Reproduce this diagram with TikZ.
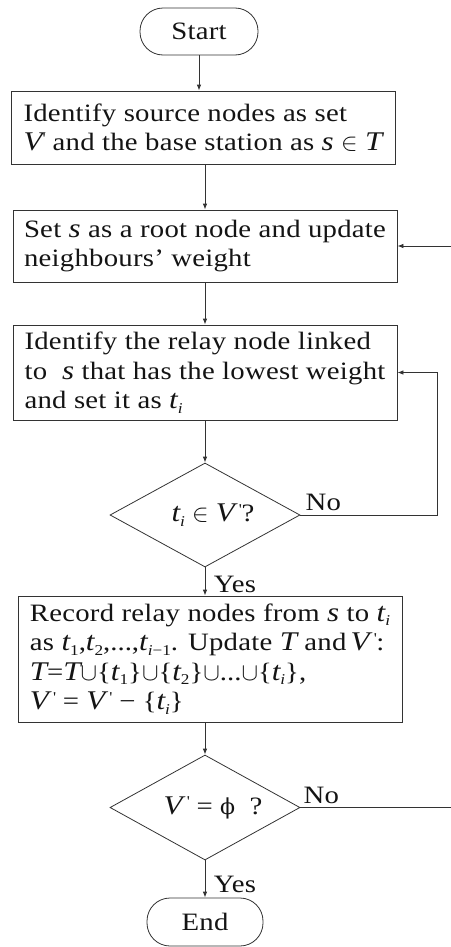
\documentclass[tikz,border=0pt]{standalone}
\usepackage{fontspec}
\setmainfont{Liberation Serif}[FakeStretch=1.15, LetterSpace=1]
\newfontfamily\mt{Liberation Serif}[FakeStretch=1.15]
\newfontfamily\dv{DejaVu Serif}
\usetikzlibrary{arrows.meta,shapes.geometric}

% italic variables, set a little larger than the running text
\newcommand\mv[1]{{\mt\fontsize{27bp}{28bp}\selectfont\itshape #1}}
% small italic / upright subscripts
\newcommand\sbi[1]{\raisebox{-0.18em}{\fontsize{15bp}{15bp}\selectfont\mt\itshape #1}}
\newcommand\sbn[1]{\raisebox{-0.18em}{\fontsize{15bp}{15bp}\selectfont\mt #1}}
% prime on V
\newcommand\pr{\raisebox{0.3em}{\fontsize{15bp}{15bp}\selectfont\mt\textquotesingle}}

\begin{document}
\begin{tikzpicture}[x=1bp,y=-1bp,
  lw/.style={draw=black!80, line width=0.8bp},
  arr/.style={lw, -{Latex[length=6bp,width=4.5bp]}},
  txt/.style={font=\fontsize{25bp}{29.5bp}\selectfont, text=black!92},
  term/.style={lw, txt, rectangle, rounded corners=23bp, minimum width=118bp,
    minimum height=47bp, inner sep=0pt},
  proc/.style={lw, txt, rectangle, minimum width=384bp, inner sep=0pt, align=left},
  dec/.style={lw, txt, diamond, shape aspect=1.83, minimum width=190bp,
    minimum height=104bp, inner sep=0pt},
  lbl/.style={txt, inner sep=0pt}]

\useasboundingbox (0,0) rectangle (451,947);

\node[term] (start) at (199,31.5) {Start};

\node[proc, minimum height=73bp] (b1) at (203,127.5)
  {Identify source nodes as set\\
   \mv{V}\pr{} and the base station as \mv{s} $\in$ \mv{T}};

\node[proc, minimum height=72bp] (b2) at (205,246)
  {Set \mv{s} as a root node and update\\
   neighbours’ weight};

\node[proc, minimum height=95bp] (b3) at (205,372.5)
  {Identify the relay node linked\\
   to \ \mv{s} that has the lowest weight\\
   and set it as \mv{t}\sbi{i}};

\node[dec] (d1) at (205,515) {{\mt\hspace{16bp}\mv{t}\sbi{i} $\in$ \mv{V}\,\pr?}};

\node[proc, minimum height=126bp] (b4) at (210,659)
  {Record relay nodes from \mv{s} to \mv{t}\sbi{i}\\
   as {\mt\mv{t}\sbn{1},\mv{t}\sbn{2},...,\mv{t}\sbi{i}\sbn{−1}}. Update \mv{T} and\,\mv{V}\,\pr:\\
   {\mt\mv{T}=\mv{T}$\cup$\{\mv{t}\sbn{1}\}$\cup$\{\mv{t}\sbn{2}\}$\cup$...$\cup$\{\mv{t}\sbi{i}\},}\\
   {\mt\mv{V}\,\pr{} = \mv{V}\,\pr{} − \{\mv{t}\sbi{i}\}}};

\node[dec, minimum height=105bp] (d2) at (205,807.5)
  {{\mt\hspace{16bp}\mv{V}\,\pr{} = {\dv\fontsize{22bp}{22bp}\selectfont ϕ} \ ?}};

\node[term, minimum width=116bp, minimum height=48bp] (end) at (205,922) {End};

% frame edge where the loop-back lines run out
\coordinate (edge) at (451,0);
\coordinate (loop) at (437,0);

% main flow
\draw[arr] (start.south) -- (start.south |- b1.north);
\draw[arr] (b1.south -| b2.north) -- (b2.north);
\draw[arr] (b2.south) -- (b3.north);
\draw[arr] (b3.south) -- (d1.north);
\draw[arr] (d1.south) -- (d1.south |- b4.north);
\draw[arr] (b4.south -| d2.north) -- (d2.north);
\draw[arr] (d2.south) -- (end.north);

% loop back from the first decision
\draw[arr] (d1.east) -- (d1.east -| loop) -- (loop |- b3.east) -- (b3.east);

% loop back from the second decision
\draw[lw] (d2.east) -- (d2.east -| edge);
\draw[arr] (edge |- b2.east) -- (b2.east);

% branch labels
\node[lbl] (no1) at ([xshift=23bp,yshift=13bp]d1.east) {No};
\node[lbl] (yes1) at ([xshift=30bp,yshift=-17bp]d1.south) {Yes};
\node[lbl] (no2) at ([xshift=21bp,yshift=12.5bp]d2.east) {No};
\node[lbl] (yes2) at ([xshift=30bp,yshift=-24bp]d2.south) {Yes};
\end{tikzpicture}
\end{document}
